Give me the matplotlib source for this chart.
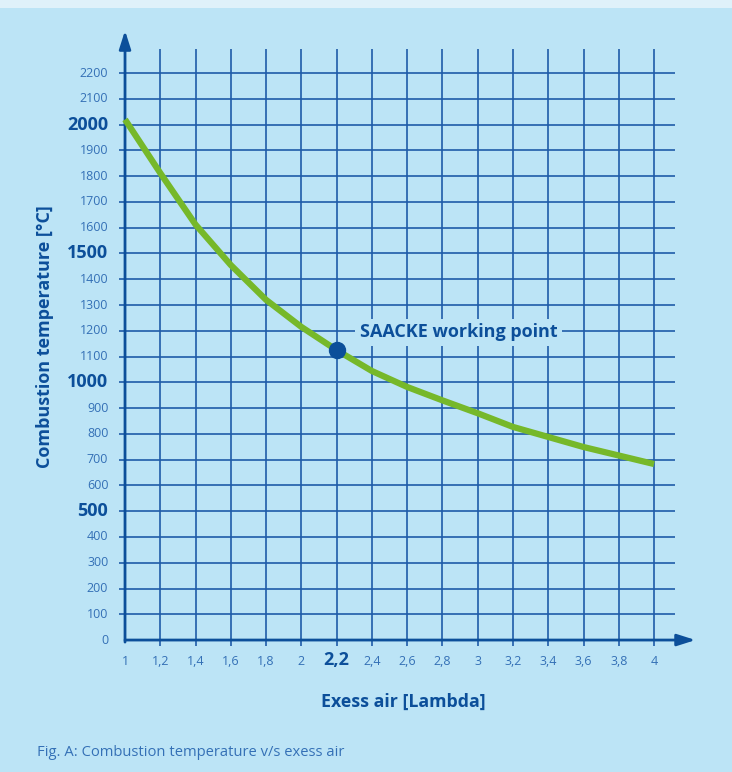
import numpy as np
import matplotlib
matplotlib.use("Agg")
import matplotlib.pyplot as plt
from matplotlib.patches import Rectangle

plt.rcParams['font.family'] = ['Open Sans', 'DejaVu Sans']

# curve: excess air (lambda) vs combustion temperature
lam = [1.0, 1.2, 1.4, 1.6, 1.8, 2.0, 2.2, 2.4, 2.6, 2.8, 3.0, 3.2, 3.4, 3.6, 3.8, 4.0]
temp = [2020, 1812, 1612, 1455, 1320, 1215, 1125, 1044, 982, 930, 880, 827, 788, 749, 716, 683]

# working point
work_x = 2.2
work_y = 1125
work_label = "SAACKE working point"

x_ticks = [1.0, 1.2, 1.4, 1.6, 1.8, 2.0, 2.2, 2.4, 2.6, 2.8, 3.0, 3.2, 3.4, 3.6, 3.8, 4.0]
x_labels = ["1", "1,2", "1,4", "1,6", "1,8", "2", "2,2", "2,4", "2,6", "2,8",
            "3", "3,2", "3,4", "3,6", "3,8", "4"]
y_ticks = list(range(0, 2300, 100))
bold_y = [500, 1000, 1500, 2000]
bold_x = [2.2]

bg = "#bce4f6"
grid_col = "#1f5ca8"
tick_col = "#3470b6"
dark = "#0c4f9a"
green = "#76b82a"

fig = plt.figure(figsize=(7.32, 7.72), dpi=100)
fig.patch.set_facecolor(bg)
# lighter strip at the very top
fig.add_artist(Rectangle((0, 1 - 8 / 772), 1, 8 / 772, transform=fig.transFigure,
                         facecolor="#dff1fa", edgecolor="none"))

ax = fig.add_axes([0.1467, 0.1509, 0.8191, 0.8212])
ax.set_facecolor(bg)
ax.set_xlim(0.9, 4.3)
ax.set_ylim(-60, 2400)
ax.axis("off")

# grid
ax.vlines(x_ticks[1:], -23, 2293, color=grid_col, lw=1.2, zorder=1)
ax.hlines(y_ticks[1:], 0.966, 4.12, color=grid_col, lw=1.2, zorder=1)

# axes with arrows
ax.annotate("", xy=(4.235, 0), xytext=(1.0, 0),
            arrowprops=dict(arrowstyle="-|>,head_length=1.1,head_width=0.35",
                            color=dark, lw=2, shrinkA=0, shrinkB=0), zorder=3)
ax.annotate("", xy=(1.0, 2365), xytext=(1.0, -8),
            arrowprops=dict(arrowstyle="-|>,head_length=1.1,head_width=0.35",
                            color=dark, lw=2, shrinkA=0, shrinkB=0), zorder=3)

# curve and working point
ax.plot(lam, temp, color=green, lw=4.5, solid_capstyle="butt", zorder=4)
ax.plot([work_x], [work_y], "o", ms=11.5, color=dark, zorder=5)
ax.text(2.89, 1195, work_label, fontsize=13, fontweight="bold", color=dark,
        ha="center", va="center", zorder=6,
        bbox=dict(boxstyle="square,pad=0.25", fc=bg, ec="none"))

# tick labels
for y in y_ticks:
    if y in bold_y:
        ax.text(0.905, y, str(y), ha="right", va="center", fontsize=13,
                fontweight="bold", color=dark)
    else:
        ax.text(0.905, y, str(y), ha="right", va="center", fontsize=9, color=tick_col)
for x, lab in zip(x_ticks, x_labels):
    if x in bold_x:
        ax.text(x, -76, lab, ha="center", va="center", fontsize=13,
                fontweight="bold", color=dark)
    else:
        ax.text(x, -84, lab, ha="center", va="center", fontsize=9, color=tick_col)

# axis titles and caption
fig.text(45 / 732, 1 - 337 / 772, "Combustion temperature [°C]", rotation=90,
         ha="center", va="center", fontsize=13, fontweight="bold", color=dark)
fig.text(403 / 732, 1 - 702 / 772, "Exess air [Lambda]", ha="center", va="center",
         fontsize=12.8, fontweight="bold", color=dark)
fig.text(37 / 732, 1 - 752 / 772, "Fig. A: Combustion temperature v/s exess air",
         ha="left", va="center", fontsize=10.6, color=tick_col)

fig.savefig("out.png", dpi=100, facecolor=bg)
